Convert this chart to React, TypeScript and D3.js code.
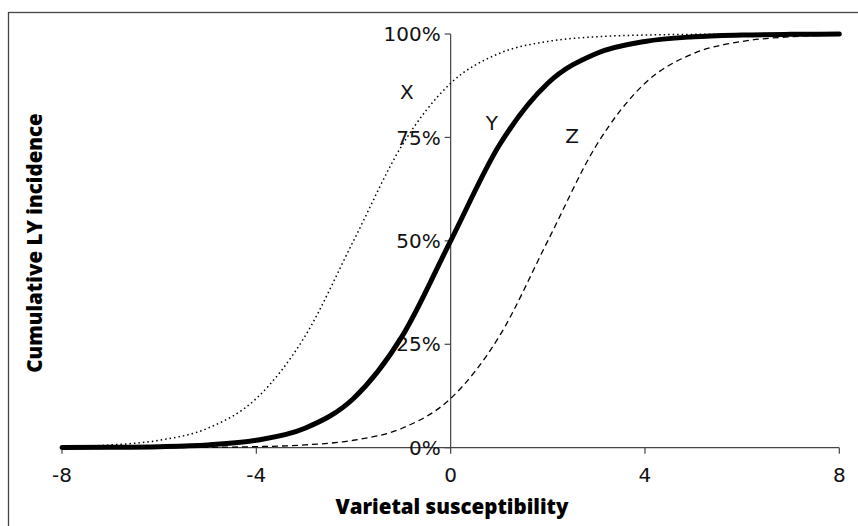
import React from "react";
import * as d3 from "d3";

const xValues = [-8, -7, -6, -5, -4, -3, -2, -1, 0, 1, 2, 3, 4, 5, 6, 7, 8];
const seriesX = [0.25, 0.67, 1.8, 4.7, 11.9, 26.9, 50, 73.1, 88.1, 95.3, 98.2, 99.33, 99.75, 99.91, 99.97, 99.99, 100];
const seriesY = [0.03, 0.09, 0.25, 0.67, 1.8, 4.7, 11.9, 26.9, 50, 73.1, 88.1, 95.3, 98.2, 99.33, 99.75, 99.91, 99.97];
const seriesZ = [0.005, 0.01, 0.03, 0.09, 0.25, 0.67, 1.8, 4.7, 11.9, 26.9, 50, 73.1, 88.1, 95.3, 98.2, 99.33, 99.75];
const xTicks = [-8, -4, 0, 4, 8];
const yTicks = [0, 25, 50, 75, 100];
const seriesLabels = [
  { name: "X", x: -0.9, y: 86 },
  { name: "Y", x: 0.85, y: 78.5 },
  { name: "Z", x: 2.5, y: 75.5 },
];

const W = 858;
const H = 526;

export default function App() {
  const x = d3.scaleLinear().domain([-8, 8]).range([62, 839.3]);
  const y = d3.scaleLinear().domain([0, 100]).range([447.7, 34]);
  const line = (vals: number[]) =>
    d3
      .line<number>()
      .x((_, i) => x(xValues[i]))
      .y((v) => y(v))
      .curve(d3.curveMonotoneX)(vals) as string;

  const x0 = x(0);
  const y0 = y(0);
  const tickFont = "'DejaVu Sans', sans-serif";
  const titleFont = "'Open Sans', sans-serif";

  return (
    <svg
      width={W}
      height={H}
      style={{ position: "absolute", left: 0, top: 0, background: "#fff" }}
    >
      <rect x={8.5} y={12.5} width={900} height={600} fill="none" stroke="#444" strokeWidth={1.3} />
      {/* axes */}
      <line x1={x(-8)} x2={x(8)} y1={y0} y2={y0} stroke="#444" strokeWidth={1.2} />
      <line x1={x0} x2={x0} y1={y(0)} y2={y(100)} stroke="#444" strokeWidth={1.2} />
      {xTicks.map((t) => (
        <g key={"xt" + t}>
          <line x1={x(t)} x2={x(t)} y1={y0} y2={y0 + 6} stroke="#444" strokeWidth={1.2} />
          <text
            x={x(t)}
            y={482}
            textAnchor="middle"
            fontFamily={tickFont}
            fontSize={20}
            fill="#111"
          >
            {t}
          </text>
        </g>
      ))}
      {yTicks.map((t) => (
        <g key={"yt" + t}>
          <line x1={x0 - 6} x2={x0} y1={y(t)} y2={y(t)} stroke="#444" strokeWidth={1.2} />
          <text
            x={x0 - 10}
            y={y(t)}
            dy="0.36em"
            textAnchor="end"
            fontFamily={tickFont}
            fontSize={20}
            fill="#111"
          >
            {t + "%"}
          </text>
        </g>
      ))}
      {/* curves */}
      <path d={line(seriesX)} fill="none" stroke="#000" strokeWidth={1.5} strokeDasharray="1.5,3" />
      <path d={line(seriesZ)} fill="none" stroke="#000" strokeWidth={1.3} strokeDasharray="6,4" />
      <path d={line(seriesY)} fill="none" stroke="#000" strokeWidth={5} strokeLinecap="round" />
      {seriesLabels.map((l) => (
        <text
          key={l.name}
          x={x(l.x)}
          y={y(l.y)}
          dy="0.36em"
          textAnchor="middle"
          fontFamily={tickFont}
          fontSize={20}
          fill="#111"
        >
          {l.name}
        </text>
      ))}
      {/* titles */}
      <text
        x={452}
        y={514}
        textAnchor="middle"
        fontFamily={titleFont}
        fontWeight={800}
        fontSize={20.5}
        fill="#000"
      >
        Varietal susceptibility
      </text>
      <text
        transform="translate(42,243) rotate(-90)"
        textAnchor="middle"
        fontFamily={titleFont}
        fontWeight={800}
        fontSize={20.5}
        fill="#000"
      >
        Cumulative LY incidence
      </text>
    </svg>
  );
}
